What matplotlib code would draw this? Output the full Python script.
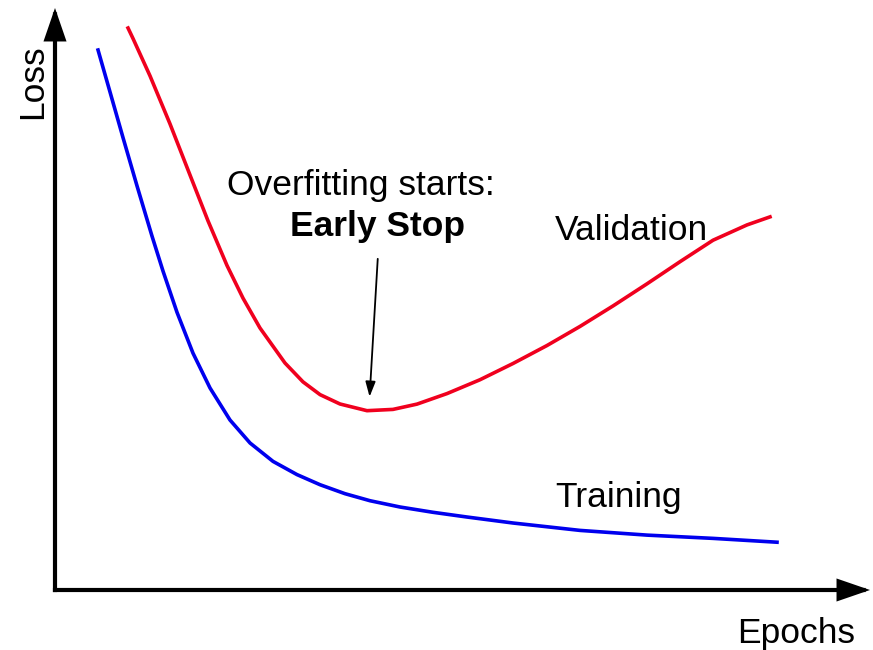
import numpy as np
import matplotlib
matplotlib.use('Agg')
import matplotlib.pyplot as plt

# curves (epochs and loss on a 0-100 scale)
train_epoch = [5.28, 6.75, 8.34, 10.06, 11.90, 13.25, 14.97, 16.93, 19.02, 21.47, 23.93, 26.75,
               29.69, 32.52, 35.58, 38.65, 42.33, 46.38, 50.55, 56.20, 64.42, 72.64, 80.74, 88.59]
train_loss = [92.78, 85.57, 77.75, 69.45, 60.82, 54.81, 47.71, 40.70, 34.71, 29.21, 25.26, 22.10,
              19.83, 18.09, 16.55, 15.34, 14.26, 13.35, 12.54, 11.51, 10.24, 9.43, 8.87, 8.21]

val_epoch = [8.96, 9.57, 11.66, 14.11, 16.56, 18.77, 21.10, 23.07, 25.15, 28.22, 30.43, 32.52,
             34.97, 38.28, 41.47, 44.42, 48.10, 52.15, 56.20, 60.37, 64.42, 68.47, 72.64, 76.69,
             80.74, 84.91, 87.73]
val_loss = [96.56, 94.76, 88.33, 80.09, 71.32, 63.44, 55.77, 50.14, 45.02, 39.00, 35.76, 33.57,
            31.96, 30.81, 31.03, 31.94, 33.75, 36.13, 38.92, 42.01, 45.29, 48.81, 52.61, 56.41,
            60.10, 62.73, 64.11]

W, H = 873, 650
fig = plt.figure(figsize=(W / 100, H / 100), dpi=100)
ax = fig.add_axes([55 / W, 60 / H, 815 / W, 582 / H])
ax.set_xlim(0, 100)
ax.set_ylim(0, 100)
ax.axis('off')

def fpos(x, y):
    return x / W, 1 - y / H

ax.plot(train_epoch, train_loss, color='#0000ee', lw=2.6, solid_joinstyle='round')
ax.plot(val_epoch, val_loss, color='#f0001e', lw=2.6, solid_joinstyle='round')

# axes with arrow heads
axis_arrow = dict(arrowstyle='-|>,head_length=1.8,head_width=0.62', color='k', lw=3,
                  mutation_scale=10, shrinkA=0, shrinkB=0, capstyle='projecting', joinstyle='miter')
ax.annotate('', xy=(0, 1), xytext=(0, 0), xycoords='axes fraction', arrowprops=axis_arrow,
            annotation_clip=False)
ax.annotate('', xy=(1.0, 0), xytext=(0, 0), xycoords='axes fraction', arrowprops=axis_arrow,
            annotation_clip=False)

# early stop pointer
ax.annotate('', xy=(38.6, 33.2), xytext=(39.6, 56.9),
            arrowprops=dict(arrowstyle='-|>,head_length=0.9,head_width=0.3', color='k', lw=1.3,
                            mutation_scale=10, shrinkA=0, shrinkB=0))

font = 'Liberation Sans'
fs = 25.5
fig.text(*fpos(361, 195), 'Overfitting starts:', ha='center', va='baseline', fontsize=fs, family=font)
fig.text(*fpos(377, 236), 'Early Stop', ha='center', va='baseline', fontsize=fs, family=font,
         fontweight='bold')
fig.text(*fpos(555, 240), 'Validation', ha='left', va='baseline', fontsize=fs, family=font)
fig.text(*fpos(555, 507), 'Training', ha='left', va='baseline', fontsize=fs, family=font)
fig.text(*fpos(737, 643), 'Epochs', ha='left', va='baseline', fontsize=fs, family=font)
fig.text(*fpos(42, 82), 'Loss', ha='center', va='baseline', rotation=90, rotation_mode='anchor',
         fontsize=fs, family=font)

fig.savefig('out.png', dpi=100, facecolor='white')
